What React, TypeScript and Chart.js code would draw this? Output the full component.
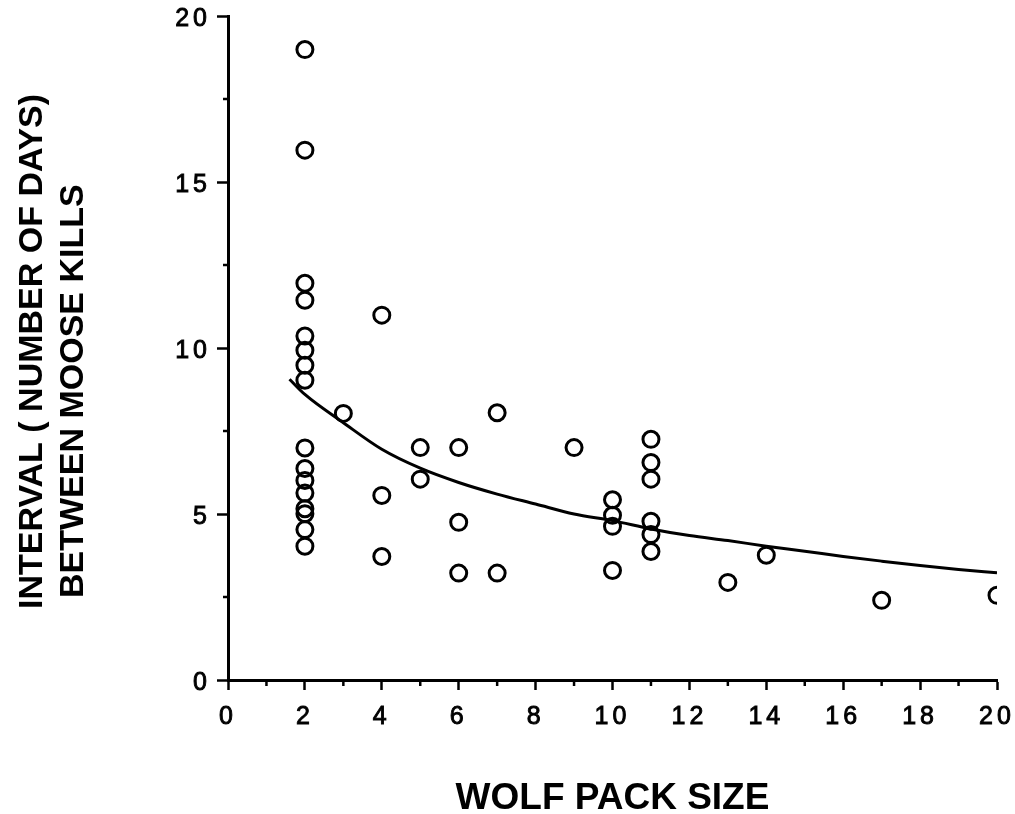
import React, { useEffect, useRef } from "react";
import { Chart, registerables } from "chart.js";

Chart.register(...registerables);

// Scatter observations: wolf pack size vs. interval (days) between moose kills
const packSizes: number[] = [
  2, 2, 2, 2, 2, 2, 2, 2, 2, 2, 2, 2, 2, 2, 2, 2,
  3,
  4, 4, 4,
  5, 5,
  6, 6, 6,
  7, 7,
  9,
  10, 10, 10, 10,
  11, 11, 11, 11, 11, 11,
  13, 14, 17, 20,
];
const intervals: number[] = [
  18.99, 15.96, 11.95, 11.44, 10.36, 9.93, 9.48, 9.03, 6.99, 6.37, 6.01, 5.63, 5.16, 5.01, 4.53, 4.03,
  8.03,
  10.99, 5.56, 3.72,
  7.0, 6.05,
  7.0, 4.75, 3.22,
  8.05, 3.22,
  7.0,
  5.43, 4.96, 4.63, 3.3,
  7.25, 6.55, 6.05, 4.78, 4.38, 3.87,
  2.94, 3.76, 2.4, 2.55,
];

// Fitted curve
const curveX: number[] = [1.6, 2, 3, 4, 5, 6, 7, 8, 9, 10, 11, 12, 13, 14, 15, 16, 17, 18, 19, 20];
const curveY: number[] = [9.06, 8.6, 7.75, 6.95, 6.38, 5.95, 5.6, 5.3, 5.0, 4.8, 4.55, 4.35, 4.2, 4.03, 3.88, 3.72, 3.58, 3.45, 3.33, 3.23];

const xTickValues: number[] = [0, 2, 4, 6, 8, 10, 12, 14, 16, 18, 20];
const yTickValues: number[] = [0, 5, 10, 15, 20];
const xMinorTicks: number[] = [1, 3, 5, 7, 9, 11, 13, 15, 17, 19];
const yMinorTicks: number[] = [2.5, 7.5, 12.5, 17.5];

const xTitle = "WOLF PACK SIZE";
const yTitleLines: string[] = ["INTERVAL ( NUMBER OF DAYS)", "BETWEEN MOOSE KILLS"];

const FONT = '"Liberation Sans", Arial, Helvetica, sans-serif';

const decorPlugin = {
  id: "decor",
  afterDatasetsDraw(chart: any) {
    // tick labels (z: 1) are drawn after this hook: give them the wide spacing of the original
    (chart.ctx as any).letterSpacing = "4px";
  },
  afterDraw(chart: any) {
    const ctx = chart.ctx as CanvasRenderingContext2D;
    (ctx as any).letterSpacing = "0px";
    const xs = chart.scales.x;
    const ys = chart.scales.y;
    const area = chart.chartArea;
    ctx.save();
    ctx.strokeStyle = "#000";
    ctx.lineWidth = 2.5;
    // minor ticks on x axis
    xMinorTicks.forEach((v) => {
      const px = xs.getPixelForValue(v);
      ctx.beginPath();
      ctx.moveTo(px, area.bottom);
      ctx.lineTo(px, area.bottom + 6);
      ctx.stroke();
    });
    // minor ticks on y axis
    yMinorTicks.forEach((v) => {
      const py = ys.getPixelForValue(v);
      ctx.beginPath();
      ctx.moveTo(area.left, py);
      ctx.lineTo(area.left - 5, py);
      ctx.stroke();
    });
    // y-axis title: two rotated lines
    ctx.fillStyle = "#000";
    ctx.font = `bold 34px ${FONT}`;
    ctx.textAlign = "left";
    ctx.textBaseline = "alphabetic";
    const pos = [
      [42, 609],
      [83, 598],
    ];
    yTitleLines.forEach((line, i) => {
      ctx.save();
      ctx.translate(pos[i][0], pos[i][1]);
      ctx.rotate(-Math.PI / 2);
      ctx.fillText(line, 0, 0);
      ctx.restore();
    });
    ctx.restore();
  },
};

export default function App() {
  const canvasRef = useRef<HTMLCanvasElement | null>(null);

  useEffect(() => {
    document.body.style.margin = "0";
    const canvas = canvasRef.current;
    if (!canvas) return;

    const points = packSizes.map((x, i) => ({ x, y: intervals[i] }));
    const curve = curveX.map((x, i) => ({ x, y: curveY[i] }));

    const chart = new Chart(canvas, {
      type: "scatter",
      data: {
        datasets: [
          {
            type: "line",
            label: "Fit",
            data: curve,
            borderColor: "#000",
            borderWidth: 3,
            pointRadius: 0,
            fill: false,
            cubicInterpolationMode: "monotone",
          } as any,
          {
            type: "scatter",
            label: "Observations",
            data: points,
            pointStyle: "circle",
            pointRadius: 8,
            pointBorderWidth: 3,
            pointBorderColor: "#000",
            pointBackgroundColor: "rgba(255,255,255,0)",
            borderColor: "#000",
            backgroundColor: "rgba(255,255,255,0)",
          },
        ],
      },
      options: {
        responsive: false,
        animation: false,
        layout: { padding: { top: 16, right: 18, left: 0, bottom: 0 } },
        plugins: {
          legend: { display: false },
          tooltip: { enabled: false },
        },
        scales: {
          x: {
            type: "linear",
            min: 0,
            max: 20,
            afterBuildTicks: (scale: any) => {
              scale.ticks = xTickValues.map((v) => ({ value: v }));
            },
            afterFit: (scale: any) => {
              scale.height = 134;
              scale.paddingLeft = 0;
              scale.paddingRight = 0;
            },
            ticks: {
              color: "#000",
              font: { family: FONT, size: 25 },
              textStrokeColor: "#000",
              textStrokeWidth: 0.9,
              padding: 12,
              maxRotation: 0,
              autoSkip: false,
              z: 1,
            },
            grid: {
              drawOnChartArea: false,
              drawTicks: true,
              tickLength: 10,
              tickWidth: 2.5,
              tickColor: "#000",
            },
            border: { display: true, color: "#000", width: 3 },
            title: {
              display: true,
              text: xTitle,
              color: "#000",
              font: { family: FONT, size: 37, weight: "bold", lineHeight: 0.8 },
              padding: { top: 0, bottom: 0 },
            },
          },
          y: {
            type: "linear",
            min: 0,
            max: 20,
            afterBuildTicks: (scale: any) => {
              scale.ticks = yTickValues.map((v) => ({ value: v }));
            },
            afterFit: (scale: any) => {
              scale.width = 228;
              scale.paddingTop = 0;
              scale.paddingBottom = 0;
            },
            ticks: {
              color: "#000",
              font: { family: FONT, size: 25 },
              textStrokeColor: "#000",
              textStrokeWidth: 0.9,
              padding: 6,
              labelOffset: 3,
              autoSkip: false,
              z: 1,
            },
            grid: {
              drawOnChartArea: false,
              drawTicks: true,
              tickLength: 11,
              tickWidth: 2.5,
              tickColor: "#000",
            },
            border: { display: true, color: "#000", width: 3 },
          },
        },
      },
      plugins: [decorPlugin],
    });

    return () => {
      chart.destroy();
    };
  }, []);

  return (
    <canvas
      ref={canvasRef}
      width={1015}
      height={814}
      style={{ display: "block", width: "1015px", height: "814px" }}
    />
  );
}
